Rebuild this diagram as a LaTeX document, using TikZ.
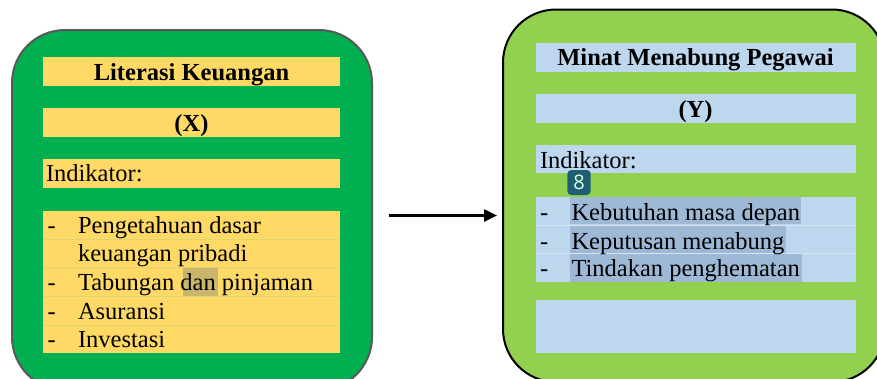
\documentclass[tikz,border=0pt]{standalone}
\usepackage{fontspec}
\setmainfont{Liberation Serif}
\newfontfamily\badgefont{Open Sans}
\usetikzlibrary{arrows.meta}
\definecolor{lgreen}{HTML}{00B050}
\definecolor{rgreen}{HTML}{92D050}
\definecolor{ybar}{HTML}{FFD966}
\definecolor{bbar}{HTML}{BDD7EE}
\definecolor{selblue}{HTML}{9DB9D6}
\definecolor{danhl}{HTML}{C9B66C}
\definecolor{badgecol}{HTML}{1F5F74}
\definecolor{ysep}{HTML}{E2D46E}
\definecolor{bsep}{HTML}{D6E4F2}
\definecolor{bordergray}{HTML}{595959}
\tikzset{
  panel/.style={rectangle, rounded corners=53pt, line width=2pt, inner sep=0pt, outer sep=0pt},
  leftpanel/.style={panel, draw=bordergray, fill=lgreen},
  rightpanel/.style={panel, draw=black, fill=rgreen},
  bar/.style={rectangle, inner sep=0pt, outer sep=0pt, draw=none},
  ybarst/.style={bar, fill=ybar, minimum width=297pt},
  bbarst/.style={bar, fill=bbar, minimum width=320pt},
  txt/.style={inner sep=0pt, outer sep=0pt, anchor=base west, font=\fontsize{24.5}{29}\selectfont},
  ttl/.style={inner sep=0pt, outer sep=0pt, anchor=base, font=\fontsize{24.5}{29}\selectfont\bfseries},
  sepline/.style={line width=0.8pt},
  conn/.style={line width=2.5pt, -{Triangle[length=13pt,width=12pt]}},
}
\begin{document}
\begin{tikzpicture}[x=1pt,y=-1pt]
\useasboundingbox (0,0) rectangle (877,378);
\clip (0,0) rectangle (877,378);
% panels
\node[leftpanel, minimum width=360pt, minimum height=360pt] (L) at (192,210) {};
\node[rightpanel, minimum width=382pt, minimum height=372.5pt] (R) at (694,195.75) {};
% left bars
\node[ybarst, minimum height=28.4pt] (l1) at (191.5,71.5) {};
\node[ybarst, minimum height=28.7pt] (l2) at (191.5,122.35) {};
\node[ybarst, minimum height=28.4pt] (l3) at (191.5,173.5) {};
\node[ybarst, minimum height=142.6pt] (l4) at (191.5,282) {};
\foreach \yy in {239.3,267.7,296.7,325} \draw[sepline, draw=ysep] (43,\yy) -- (340,\yy);
\fill[danhl] (183,268) rectangle (218,296);
\node[ttl] (lt1) at (191.5,80.7) {Literasi Keuangan};
\node[ttl] (lt2) at (191.5,131) {(X)};
\node[txt] (lt3) at (46,181.7) {Indikator:};
\node[txt] (ld1) at (47.5,233.3) {-};
\node[txt] (li1) at (78,233.3) {Pengetahuan dasar};
\node[txt] (li2) at (78,261.7) {keuangan pribadi};
\node[txt] (ld3) at (47.5,290.3) {-};
\node[txt] (li3) at (78,290.3) {Tabungan dan pinjaman};
\node[txt] (ld4) at (47.5,319) {-};
\node[txt] (li4) at (78,319) {Asuransi};
\node[txt] (ld5) at (47.5,347) {-};
\node[txt] (li5) at (78,347) {Investasi};
% right bars
\node[bbarst, minimum height=28.4pt] (r1) at (695.7,57.5) {};
\node[bbarst, minimum height=28.4pt] (r2) at (695.7,108.5) {};
\node[bbarst, minimum height=28pt] (r3) at (695.7,159.3) {};
\node[bbarst, minimum height=85pt] (r4) at (695.7,239.2) {};
\node[bbarst, minimum height=53.3pt] (r5) at (695.7,326.65) {};
\foreach \yy in {225,253} \draw[sepline, draw=bsep] (535.7,\yy) -- (855.7,\yy);
\fill[selblue] (570,197.3) rectangle (801,224.3);
\fill[selblue] (570,225.7) rectangle (786,252.7);
\fill[selblue] (570,254) rectangle (802,281.7);
\node[ttl] (rt1) at (695.5,65.7) {Minat Menabung Pegawai};
\node[ttl] (rt2) at (695.5,117.3) {(Y)};
\node[txt] (rt3) at (540,168.3) {Indikator:};
\node[txt] (rd1) at (540,220) {-};
\node[txt] (ri1) at (571.5,220) {Kebutuhan masa depan};
\node[txt] (rd2) at (540,249) {-};
\node[txt] (ri2) at (571.5,249) {Keputusan menabung};
\node[txt] (rd3) at (540,276.7) {-};
\node[txt] (ri3) at (571.5,276.7) {Tindakan penghematan};
% badge
\node[rectangle, rounded corners=4pt, fill=badgecol, text=white!88!green, minimum width=23.4pt, minimum height=25pt, inner sep=0pt, font=\badgefont\fontsize{20}{20}\selectfont] (badge) at (579,182.5) {8};
% connector
\coordinate (a1) at (389,215.5);
\coordinate (a2) at (497,215.5);
\draw[conn] (a1) -- (a2);
\end{tikzpicture}
\end{document}
